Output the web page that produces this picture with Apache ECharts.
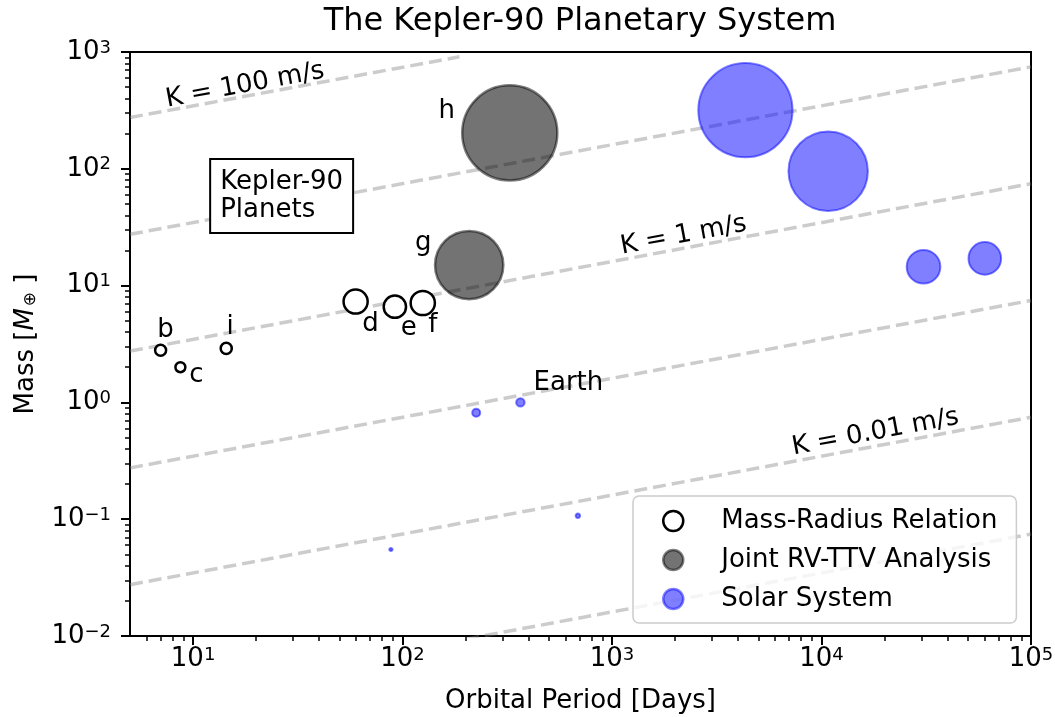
<!DOCTYPE html>
<html>
<head>
<meta charset="utf-8">
<title>The Kepler-90 Planetary System</title>
<script src="https://cdn.jsdelivr.net/npm/echarts@6/dist/echarts.min.js"></script>
<style>
  html, body { margin: 0; padding: 0; background: #ffffff; }
  #chart { width: 1055px; height: 717px; }
</style>
</head>
<body>
<div id="chart"></div>
<script>
// Kepler-90 planets: orbital period [days], mass [Earth masses], radius [Earth radii]
const keplerNames   = ['b', 'c', 'i', 'd', 'e', 'f', 'g', 'h'];
const keplerPeriods = [7.0, 8.7, 14.4, 59.7, 91.9, 124.9, 208, 325];
const keplerMasses  = [2.8, 2.0, 2.9, 7.3, 6.6, 7.1, 15.0, 203];
const keplerRadii   = [1.31, 1.18, 1.32, 2.87, 2.66, 2.88, 8.13, 11.32];
// how each mass was obtained
const keplerMethod  = ['mr', 'mr', 'mr', 'mr', 'mr', 'mr', 'rvttv', 'rvttv'];

// Solar System planets
const solarNames   = ['Mercury', 'Venus', 'Earth', 'Mars', 'Jupiter', 'Saturn', 'Uranus', 'Neptune'];
const solarPeriods = [88.0, 224.7, 365.25, 687.0, 4333, 10759, 30687, 60190];
const solarMasses  = [0.055, 0.815, 1.0, 0.107, 317.8, 95.2, 14.5, 17.1];
const solarRadii   = [0.38, 0.95, 1.0, 0.53, 11.21, 9.45, 4.01, 3.88];

// constant radial-velocity semi-amplitude curves: [period, mass] end points
const rvK     = [100, 10, 1, 0.1, 0.01, 0.001];
const rvStart = [[5, 275], [5, 27.5], [5, 2.75], [5, 0.275], [5, 0.0275], [5, 0.00275]];
const rvEnd   = [[187, 910], [1e5, 746], [1e5, 74.6], [1e5, 7.46], [1e5, 0.746], [1e5, 0.0746]];
const rvLabelK = [100, 1, 0.01];

// axis ticks
const xMajorTicks = [10, 100, 1000, 10000, 100000];
const xMinorTicks = [6, 7, 8, 9, 20, 30, 40, 50, 60, 70, 80, 90,
  200, 300, 400, 500, 600, 700, 800, 900,
  2000, 3000, 4000, 5000, 6000, 7000, 8000, 9000,
  20000, 30000, 40000, 50000, 60000, 70000, 80000, 90000];
const yMajorTicks = [0.01, 0.1, 1, 10, 100, 1000];
const yMinorTicks = [0.02, 0.03, 0.04, 0.05, 0.06, 0.07, 0.08, 0.09,
  0.2, 0.3, 0.4, 0.5, 0.6, 0.7, 0.8, 0.9,
  2, 3, 4, 5, 6, 7, 8, 9,
  20, 30, 40, 50, 60, 70, 80, 90,
  200, 300, 400, 500, 600, 700, 800, 900];

const FONT = 'DejaVu Sans';
const PX_PER_RADIUS = 8.4;   // marker diameter per Earth radius

// label offsets (px) from each marker centre
const labelOffset = {
  b: [5, -20], c: [16, 8], i: [4, -21], d: [15, 23], e: [14, 22], f: [10, 22],
  g: [-46, -22], h: [-63, -22], Earth: [48, -19]
};
// anchors of the annotation texts, in data coordinates
const rvLabelAt = [[17.7, 518], [2193, 26.9], [18070, 0.553]];
const boxAt = [12.2, 119];

function powerLabel(v) {
  const e = Math.round(Math.log10(v));
  return '{b|10}{e|' + (e < 0 ? '\u2212' + (-e) : String(e)) + '}';
}
const tickRich = {
  b: { fontSize: 26, fontFamily: FONT, color: '#000', lineHeight: 26, padding: [6, 0, 0, 0], verticalAlign: 'bottom' },
  e: { fontSize: 18, fontFamily: FONT, color: '#000', lineHeight: 18, verticalAlign: 'top' }
};

function pointLabel(name) {
  const off = labelOffset[name];
  if (!off) return { show: false };
  return {
    show: true, position: 'inside', offset: off, formatter: name,
    fontSize: 26, fontFamily: FONT, color: '#000', align: 'center', verticalAlign: 'middle'
  };
}

function keplerData(method) {
  const out = [];
  keplerNames.forEach((n, i) => {
    if (keplerMethod[i] !== method) return;
    out.push({ name: n, value: [keplerPeriods[i], keplerMasses[i], keplerRadii[i]], label: pointLabel(n) });
  });
  return out;
}
const solarData = solarNames.map((n, i) => ({
  name: n, value: [solarPeriods[i], solarMasses[i], solarRadii[i]], label: pointLabel(n)
}));

const symbolSize = v => v[2] * PX_PER_RADIUS;

const rvSeries = rvK.map((k, i) => ({
  type: 'line', name: 'K = ' + k + ' m/s', silent: true, z: 1,
  showSymbol: false, symbol: 'none', clip: true,
  data: [rvStart[i], rvEnd[i]],
  lineStyle: { color: 'rgba(128,128,128,0.4)', width: 3.5, type: [13, 6] },
  legendHoverLink: false
}));

const axisLineStyle = { color: '#000', width: 2 };

const option = {
  backgroundColor: '#ffffff',
  animation: false,
  title: {
    text: 'The Kepler-90 Planetary System',
    left: 580, top: 6, textAlign: 'center', padding: 0,
    textStyle: { fontSize: 32, fontWeight: 'normal', color: '#000', fontFamily: FONT }
  },
  grid: {
    left: 130, right: 24, top: 52, bottom: 81,
    outerBoundsMode: 'none', containLabel: false,
    show: true, borderColor: '#000', borderWidth: 2, backgroundColor: 'transparent'
  },
  legend: {
    data: ['Mass-Radius Relation', 'Joint RV-TTV Analysis', 'Solar System'],
    orient: 'vertical', left: 633, top: 496,
    padding: [10, 19, 9, 29], itemGap: 9, itemWidth: 20, itemHeight: 20,
    icon: 'circle',
    itemStyle: { borderWidth: 2.5 },
    backgroundColor: 'rgba(255,255,255,0.8)', borderColor: '#cccccc', borderWidth: 1.5, borderRadius: 6,
    textStyle: { fontSize: 26, fontFamily: FONT, color: '#000', lineHeight: 30, padding: [0, 0, 0, 33] },
    selectedMode: false
  },
  xAxis: [{
    type: 'log', logBase: 10, min: 5, max: 1e5,
    name: 'Orbital Period [Days]', nameLocation: 'middle', nameGap: 52,
    nameTextStyle: { fontSize: 26, fontFamily: FONT, color: '#000' },
    axisLine: { show: true, lineStyle: axisLineStyle },
    axisTick: { show: true, customValues: xMajorTicks, length: 9, lineStyle: axisLineStyle },
    axisLabel: { customValues: xMajorTicks, formatter: powerLabel, rich: tickRich, margin: 10 },
    splitLine: { show: false }, minorTick: { show: false }
  }, {
    type: 'log', logBase: 10, min: 5, max: 1e5, position: 'bottom',
    axisLine: { show: false },
    axisTick: { show: true, customValues: xMinorTicks, length: 5, lineStyle: { color: '#000', width: 1.5 } },
    axisLabel: { show: false }, splitLine: { show: false }
  }],
  yAxis: [{
    type: 'log', logBase: 10, min: 0.01, max: 1000,
    name: '{n|Mass [}{m|M}{s|\u2295}{n| ]}', nameLocation: 'middle', nameGap: 88,
    nameTextStyle: {
      fontSize: 26, fontFamily: FONT, color: '#000',
      rich: {
        n: { fontSize: 26, fontFamily: FONT, color: '#000', lineHeight: 32 },
        m: { fontSize: 26, fontFamily: FONT, color: '#000', fontStyle: 'italic', lineHeight: 32 },
        s: { fontSize: 17, fontFamily: FONT, color: '#000', verticalAlign: 'bottom', padding: [0, 0, 3, 2] }
      }
    },
    axisLine: { show: true, lineStyle: axisLineStyle },
    axisTick: { show: true, customValues: yMajorTicks, length: 9, lineStyle: axisLineStyle },
    axisLabel: { customValues: yMajorTicks, formatter: powerLabel, rich: tickRich, margin: 19 },
    splitLine: { show: false }, minorTick: { show: false }
  }, {
    type: 'log', logBase: 10, min: 0.01, max: 1000, position: 'left',
    axisLine: { show: false },
    axisTick: { show: true, customValues: yMinorTicks, length: 5, lineStyle: { color: '#000', width: 1.5 } },
    axisLabel: { show: false }, splitLine: { show: false }
  }],
  series: rvSeries.concat([
    {
      type: 'scatter', name: 'Mass-Radius Relation', z: 3,
      data: keplerData('mr'), symbol: 'circle', symbolSize: symbolSize,
      itemStyle: { color: '#ffffff', borderColor: '#000000', borderWidth: 2.5, opacity: 1 }
    },
    {
      type: 'scatter', name: 'Joint RV-TTV Analysis', z: 3,
      data: keplerData('rvttv'), symbol: 'circle', symbolSize: symbolSize,
      itemStyle: { color: 'rgba(0,0,0,0.55)', borderColor: 'rgba(0,0,0,0.5)', borderWidth: 2.5, opacity: 1 }
    },
    {
      type: 'scatter', name: 'Solar System', z: 3,
      data: solarData, symbol: 'circle', symbolSize: symbolSize,
      itemStyle: { color: 'rgba(0,0,255,0.5)', borderColor: 'rgba(0,0,255,0.5)', borderWidth: 2, opacity: 1 }
    }
  ])
};

const chart = echarts.init(document.getElementById('chart'), null, { renderer: 'canvas' });
chart.setOption(option);

// annotations placed through the axes' own scales
function toPx(p) { return chart.convertToPixel({ gridIndex: 0 }, p); }
const a0 = toPx(rvStart[2]), a1 = toPx(rvEnd[2]);
const slopeAngle = Math.atan2(a0[1] - a1[1], a1[0] - a0[0]);

const graphics = rvLabelK.map((k, i) => {
  const p = toPx(rvLabelAt[i]);
  return {
    type: 'text', x: p[0], y: p[1], rotation: slopeAngle, z: 10,
    style: {
      text: 'K = ' + k + ' m/s', x: 0, y: 0, align: 'center', verticalAlign: 'middle',
      font: '26px "' + FONT + '"', fill: '#000'
    }
  };
});
const bp = toPx(boxAt);
graphics.push({
  type: 'text', x: bp[0], y: bp[1], z: 10,
  style: {
    text: 'Kepler-90\nPlanets', font: '26px "' + FONT + '"', fill: '#000',
    lineHeight: 28, align: 'left', verticalAlign: 'top',
    backgroundColor: '#ffffff', borderColor: '#000000', borderWidth: 2,
    padding: [8, 9, 8, 9]
  }
});
chart.setOption({ graphic: graphics });
</script>
</body>
</html>
